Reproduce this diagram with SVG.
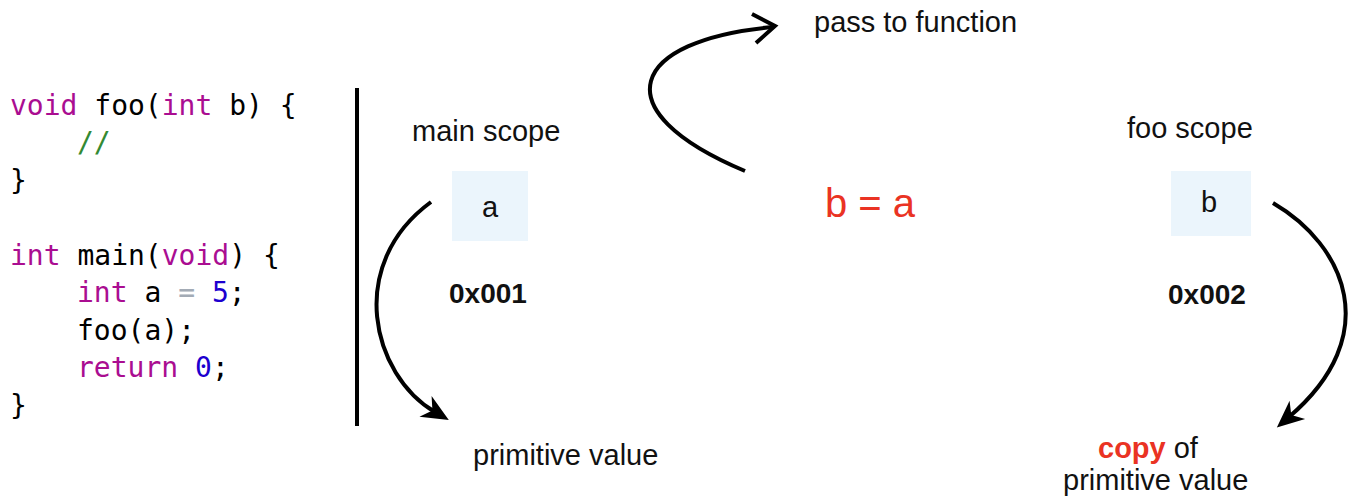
<svg xmlns="http://www.w3.org/2000/svg" width="1349" height="498" viewBox="0 0 1349 498">
  <style>
    .code { font-family: "DejaVu Sans Mono", "Liberation Mono", monospace; font-size: 28px; fill: #000; }
    .kw { fill: #AA0D91; }
    .cm { fill: #338a33; }
    .num { fill: #1C00CF; }
    .op { fill: #a3abb5; }
    .lbl { font-family: "Liberation Sans", Arial, sans-serif; font-size: 29px; fill: #111; }
    .big { font-size: 40px; }
    .addr { font-family: "Liberation Sans", Arial, sans-serif; font-size: 28px; font-weight: bold; fill: #111; }
    .red { fill: #EA3323; }
    .cell { fill: #EBF5FC; }
    .flow { fill: none; stroke: #000; stroke-width: 4; }
  </style>
  <defs>
    <marker id="head" markerUnits="userSpaceOnUse" viewBox="-12 -14 30 28" refX="0" refY="0" markerWidth="30" markerHeight="28" orient="auto">
      <path d="M16,0 L-11,-12 L-3,0 L-11,12 Z" fill="#000"/>
    </marker>
  </defs>

  <rect width="1349" height="498" fill="#fff"/>

  <!-- source listing -->
  <g id="code">
    <text class="code" x="10" y="115"><tspan class="kw">void</tspan> foo(<tspan class="kw">int</tspan> b) {</text>
    <text class="code cm" x="77" y="152">//</text>
    <text class="code" x="10" y="190">}</text>
    <text class="code" x="10" y="265"><tspan class="kw">int</tspan> main(<tspan class="kw">void</tspan>) {</text>
    <text class="code" x="77" y="302"><tspan class="kw">int</tspan> a <tspan class="op">=</tspan> <tspan class="num">5</tspan>;</text>
    <text class="code" x="77" y="340">foo(a);</text>
    <text class="code" x="77" y="377"><tspan class="kw">return</tspan> <tspan class="num">0</tspan>;</text>
    <text class="code" x="10" y="415">}</text>
  </g>

  <!-- divider between code and memory view -->
  <g id="divider">
    <line x1="357" y1="88" x2="357" y2="426" stroke="#000" stroke-width="4"/>
  </g>

  <!-- main scope: variable a -->
  <g id="main-scope">
    <text class="lbl" x="412" y="141">main scope</text>
    <rect class="cell" x="452" y="171" width="76" height="70"/>
    <text class="lbl" x="490" y="217" text-anchor="middle">a</text>
    <text class="addr" x="449" y="303">0x001</text>
  </g>

  <g id="primitive-a">
    <text class="lbl" x="473" y="465">primitive value</text>
  </g>

  <!-- foo scope: parameter b -->
  <g id="foo-scope">
    <text class="lbl" x="1127" y="138">foo scope</text>
    <rect class="cell" x="1171" y="171" width="80" height="65"/>
    <text class="lbl" x="1209" y="212" text-anchor="middle">b</text>
    <text class="addr" x="1168" y="304">0x002</text>
  </g>

  <g id="copy-b">
    <text class="lbl" x="1098" y="458"><tspan class="red" font-weight="bold">copy</tspan> of</text>
    <text class="lbl" x="1063" y="490">primitive value</text>
  </g>

  <!-- assignment label -->
  <g id="assign">
    <text class="lbl big red" x="825" y="217">b = a</text>
  </g>

  <g id="pass-label">
    <text class="lbl" x="814" y="32">pass to function</text>
  </g>

  <!-- connectors -->
  <g id="connectors">
    <path class="flow" d="M745,171 C600,110 630,40 773,27"/>
    <path class="flow" d="M752,14 L775,26 L756,43" stroke-linejoin="miter"/>
    <path class="flow" d="M431,202 C345,265 372,375 435,412" marker-end="url(#head)"/>
    <path class="flow" d="M1273,203 C1345,245 1385,335 1289,417" marker-end="url(#head)"/>
  </g>
</svg>
